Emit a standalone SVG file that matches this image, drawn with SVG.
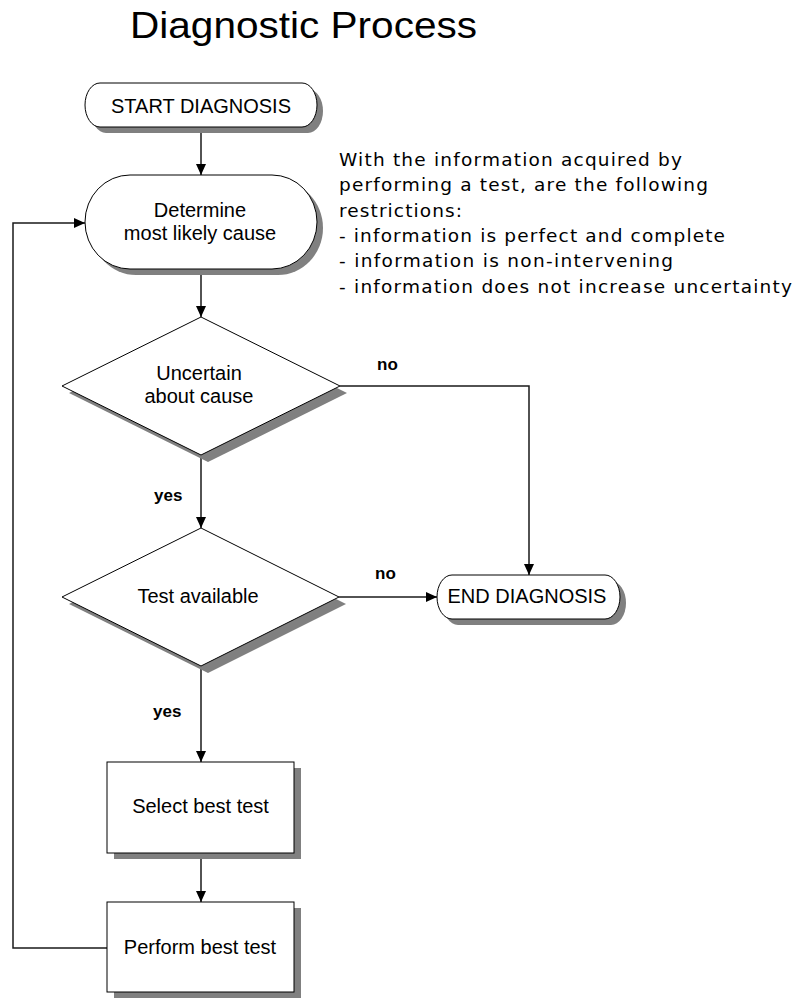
<svg xmlns="http://www.w3.org/2000/svg" width="797" height="999" viewBox="0 0 797 999">
  <defs>
    <marker id="arrow" markerUnits="userSpaceOnUse" markerWidth="11" markerHeight="10" refX="11" refY="5" orient="auto">
      <path d="M0,0 L11,5 L0,10 z" fill="#000"/>
    </marker>
  </defs>
  <style>
    .shape { fill: #ffffff; stroke: #000000; stroke-width: 1; }
    .shadow { fill: #808080; stroke: none; }
    .label { font-family: "Liberation Sans", Arial, sans-serif; font-size: 20px; fill: #000; text-anchor: middle; }
    .edge { fill: none; stroke: #1a1a1a; stroke-width: 1.5; }
    .elabel { font-family: "Liberation Sans", Arial, sans-serif; font-size: 17px; font-weight: bold; fill: #000; }
    .note { font-family: "DejaVu Sans", Verdana, sans-serif; font-size: 18.5px; fill: #000; }
  </style>
  <rect width="797" height="999" fill="#ffffff"/>

  <text x="130" y="38" font-family="Liberation Sans, Arial, sans-serif" font-size="37" fill="#000" textLength="347" lengthAdjust="spacingAndGlyphs">Diagnostic Process</text>

  <g id="note">
    <text class="note" x="339" y="166" textLength="343" lengthAdjust="spacing">With the information acquired by</text>
    <text class="note" x="339" y="191.3" textLength="369" lengthAdjust="spacing">performing a test, are the following</text>
    <text class="note" x="339" y="216.6" textLength="123" lengthAdjust="spacing">restrictions:</text>
    <text class="note" x="339" y="241.9" textLength="386" lengthAdjust="spacing">- information is perfect and complete</text>
    <text class="note" x="339" y="267.2" textLength="334" lengthAdjust="spacing">- information is non-intervening</text>
    <text class="note" x="339" y="292.5" textLength="453" lengthAdjust="spacing">- information does not increase uncertainty</text>
  </g>

  <g id="connectors">
    <path class="edge" d="M201,127 V175" marker-end="url(#arrow)"/>
    <path class="edge" d="M201,269 V317" marker-end="url(#arrow)"/>
    <path class="edge" d="M201,455 V528" marker-end="url(#arrow)"/>
    <path class="edge" d="M201,666 V762" marker-end="url(#arrow)"/>
    <path class="edge" d="M201,853 V902" marker-end="url(#arrow)"/>
    <path class="edge" d="M340,386 H529 V575" marker-end="url(#arrow)"/>
    <path class="edge" d="M339,597 H437" marker-end="url(#arrow)"/>
    <path class="edge" d="M107,948 H13 V223 H85" marker-end="url(#arrow)"/>
    <text class="elabel" x="377" y="370">no</text>
    <text class="elabel" x="375" y="579">no</text>
    <text class="elabel" x="154" y="501">yes</text>
    <text class="elabel" x="153" y="717">yes</text>
  </g>

  <g id="start">
    <rect class="shadow" x="91" y="89" width="232" height="44" rx="15" ry="22"/>
    <rect class="shape" x="85" y="83" width="232" height="44" rx="15" ry="22"/>
    <text class="label" x="201" y="113">START DIAGNOSIS</text>
  </g>

  <g id="determine">
    <rect class="shadow" x="91" y="181" width="232" height="94" rx="45" ry="47"/>
    <rect class="shape" x="85" y="175" width="232" height="94" rx="45" ry="47"/>
    <text class="label" x="200" y="217">Determine</text>
    <text class="label" x="200" y="240">most likely cause</text>
  </g>

  <g id="uncertain">
    <polygon class="shadow" points="208,324 347,393 208,462 69,393"/>
    <polygon class="shape" points="201,317 340,386 201,455 62,386"/>
    <text class="label" x="199" y="380">Uncertain</text>
    <text class="label" x="199" y="403">about cause</text>
  </g>

  <g id="test-available">
    <polygon class="shadow" points="208,535 346,604 208,673 69,604"/>
    <polygon class="shape" points="201,528 339,597 201,666 62,597"/>
    <text class="label" x="198" y="603">Test available</text>
  </g>

  <g id="end">
    <rect class="shadow" x="443" y="581" width="183" height="44" rx="15" ry="22"/>
    <rect class="shape" x="437" y="575" width="183" height="44" rx="15" ry="22"/>
    <text class="label" x="527" y="603">END DIAGNOSIS</text>
  </g>

  <g id="select">
    <rect class="shadow" x="114" y="768" width="187" height="91"/>
    <rect class="shape" x="107" y="762" width="187" height="91"/>
    <text class="label" x="200.5" y="813">Select best test</text>
  </g>

  <g id="perform">
    <rect class="shadow" x="114" y="908" width="187" height="90"/>
    <rect class="shape" x="107" y="902" width="187" height="90"/>
    <text class="label" x="200" y="954">Perform best test</text>
  </g>
</svg>
